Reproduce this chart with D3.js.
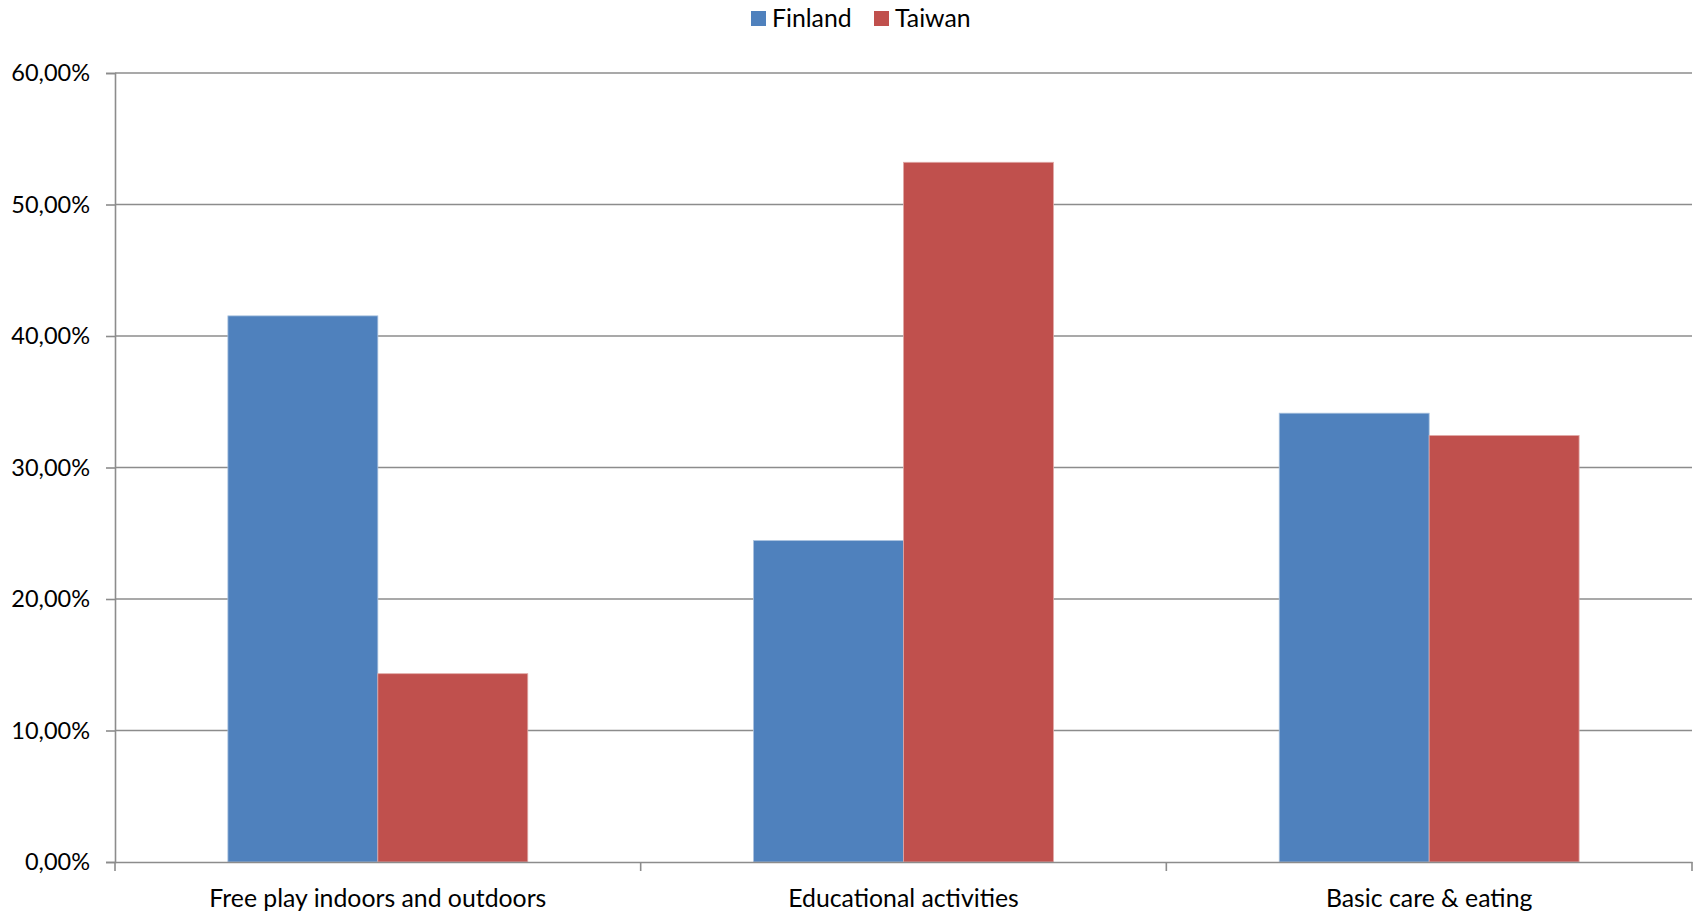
<!DOCTYPE html>
<html>
<head>
<meta charset="utf-8">
<script src="https://cdn.jsdelivr.net/npm/d3@7"></script>
<style>
  html, body { margin: 0; padding: 0; background: #fff; }
  svg { display: block; font-family: Lato, "Open Sans", sans-serif; }
</style>
</head>
<body>
<svg id="chart" width="1696" height="912"></svg>
<script>
// Share of time by activity type, Finland vs Taiwan
const categories = ["Free play indoors and outdoors", "Educational activities", "Basic care & eating"];
const seriesNames = ["Finland", "Taiwan"];
const finland = [41.53, 24.44, 34.13];
const taiwan = [14.32, 53.21, 32.43];
const yTicks = [0, 10, 20, 30, 40, 50, 60];
const colors = ["#4f81bd", "#c0504d"];
const edgeColors = ["#a7c0de", "#e0a8a6"];

const svg = d3.select("#chart");
const margin = { left: 115, right: 1696 - 1692, top: 73, bottom: 912 - 862 };
const W = 1696, H = 912;

const x0 = d3.scaleBand().domain(categories).range([margin.left, W - margin.right]).paddingInner(0).paddingOuter(0);
const x1 = d3.scaleBand().domain(seriesNames).range([0, x0.bandwidth()]).paddingInner(0).paddingOuter(0.753);
const y = d3.scaleLinear().domain([0, 60]).range([H - margin.bottom, margin.top]);

const fmt = v => v.toFixed(2).replace(".", ",") + "%";

// horizontal gridlines
svg.append("g").selectAll("line").data(yTicks.filter(t => t > 0)).join("line")
  .attr("x1", margin.left).attr("x2", W - margin.right)
  .attr("y1", d => y(d)).attr("y2", d => y(d))
  .attr("stroke", "#8c8c8c").attr("stroke-width", 1.6);

// y axis
const yAxis = svg.append("g").attr("transform", `translate(${margin.left},0)`)
  .call(d3.axisLeft(y).tickValues(yTicks).tickFormat(fmt).tickSize(9).tickPadding(16));
yAxis.select(".domain").attr("stroke", "#8c8c8c").attr("stroke-width", 1.6);
yAxis.selectAll(".tick line").attr("stroke", "#8c8c8c").attr("stroke-width", 1.6);
yAxis.selectAll(".tick text").attr("font-size", 23.5).attr("fill", "#000")
  .attr("font-family", "Lato, 'Open Sans', sans-serif");

// bars
const rows = categories.map((c, i) => ({ cat: c, vals: [finland[i], taiwan[i]] }));
const groups = svg.append("g").selectAll("g").data(rows).join("g")
  .attr("transform", d => `translate(${x0(d.cat)},0)`);
groups.selectAll("rect").data(d => d.vals.map((v, j) => ({ name: seriesNames[j], v, j }))).join("rect")
  .attr("x", d => x1(d.name)).attr("width", x1.bandwidth())
  .attr("y", d => y(d.v)).attr("height", d => y(0) - y(d.v))
  .attr("fill", d => colors[d.j])
  .attr("stroke", d => edgeColors[d.j]).attr("stroke-width", 0.8);

// x axis
const xAxis = svg.append("g").attr("transform", `translate(0,${y(0)})`)
  .call(d3.axisBottom(x0).tickSize(0).tickPadding(27));
xAxis.select(".domain").attr("stroke", "#8c8c8c").attr("stroke-width", 1.6);
xAxis.selectAll(".tick text").attr("font-size", 24.8).attr("fill", "#000")
  .attr("font-family", "Lato, 'Open Sans', sans-serif");
// category boundary tick marks
const bounds = categories.map(c => x0(c)).concat([x0(categories[categories.length - 1]) + x0.bandwidth()]);
svg.append("g").selectAll("line").data(bounds).join("line")
  .attr("x1", d => d).attr("x2", d => d)
  .attr("y1", y(0)).attr("y2", y(0) + 9)
  .attr("stroke", "#8c8c8c").attr("stroke-width", 1.6);

// legend
const legend = svg.append("g");
const legendX = [751, 874];
seriesNames.forEach((n, i) => {
  legend.append("rect").attr("x", legendX[i]).attr("y", 11).attr("width", 15).attr("height", 15)
    .attr("fill", colors[i]);
  legend.append("text").attr("x", legendX[i] + 21).attr("y", 27)
    .attr("font-size", 24.8).attr("fill", "#000").text(n);
});
</script>
</body>
</html>
